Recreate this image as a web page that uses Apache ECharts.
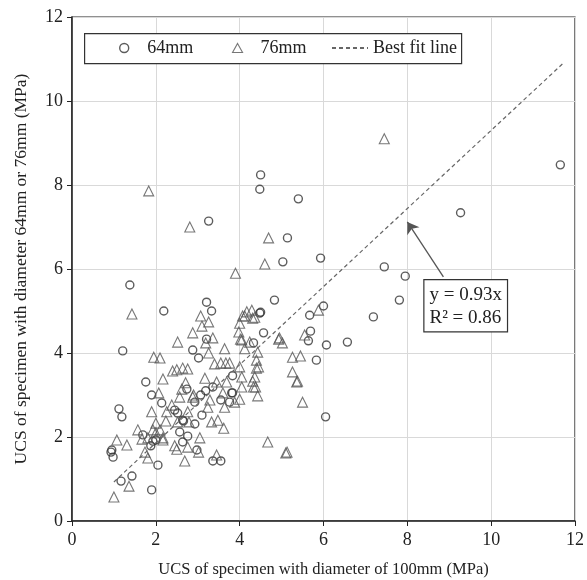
<!DOCTYPE html>
<html>
<head>
<meta charset="utf-8">
<script src="https://cdn.jsdelivr.net/npm/echarts@6/dist/echarts.min.js"></script>
<style>
html,body{margin:0;padding:0;background:#fff;}
#main{width:587px;height:580px;}
</style>
</head>
<body>
<div id="main"></div>
<script>
// 64mm specimens [UCS 100mm, UCS 64mm]
var d64 = [
  [11.65,8.48],[9.27,7.34],[5.4,7.67],[4.5,8.24],[4.48,7.9],[3.26,7.14],[5.14,6.74],[5.03,6.17],
  [5.93,6.26],[7.45,6.05],[7.95,5.83],[7.81,5.26],[7.19,4.86],[6.0,5.12],[5.67,4.9],[5.69,4.52],
  [5.64,4.29],[6.07,4.19],[6.57,4.26],[5.83,3.83],[6.05,2.48],[1.38,5.62],[2.19,5.0],[3.21,5.21],
  [3.33,5.0],[4.83,5.26],[4.48,4.95],[4.5,4.97],[4.57,4.48],[4.33,4.24],[3.21,4.33],[2.88,4.07],
  [3.02,3.88],[1.21,4.05],[3.83,3.46],[3.83,3.05],[1.76,3.31],[1.9,3.0],[1.12,2.67],[1.19,2.48],
  [2.14,2.81],[2.74,3.14],[3.19,3.1],[3.36,3.19],[3.07,3.0],[2.93,2.83],[3.81,3.05],[3.76,2.83],
  [3.55,2.88],[2.45,2.64],[2.52,2.57],[2.64,2.4],[2.66,2.38],[2.93,2.31],[3.1,2.52],[2.57,2.12],
  [2.76,2.02],[2.64,1.88],[1.69,2.05],[2.0,1.93],[1.93,1.9],[1.88,1.79],[2.98,1.69],[3.36,1.43],
  [3.55,1.43],[0.95,1.69],[0.98,1.52],[0.93,1.64],[2.05,1.33],[1.17,0.95],[1.43,1.07],[1.9,0.74]
];
// 76mm specimens [UCS 100mm, UCS 76mm]
var d76 = [
  [7.45,9.1],[1.83,7.86],[2.81,7.0],[4.69,6.74],[4.6,6.12],[3.9,5.9],[1.43,4.93],[3.07,4.88],
  [3.26,4.74],[3.1,4.64],[2.88,4.48],[2.52,4.26],[3.36,4.36],[3.19,4.24],[3.26,4.0],[3.64,4.1],
  [4.29,5.02],[4.17,4.98],[4.12,4.88],[4.31,4.83],[4.36,4.85],[4.07,4.88],[4.0,4.71],[3.98,4.5],
  [4.02,4.33],[4.05,4.31],[4.24,4.26],[4.12,4.1],[4.43,4.02],[4.4,3.83],[4.45,3.67],[4.4,3.64],
  [4.93,4.33],[5.02,4.24],[5.88,5.02],[5.55,4.43],[5.26,3.9],[5.45,3.93],[5.26,3.55],[5.36,3.31],
  [5.38,3.33],[5.5,2.83],[4.67,1.88],[5.1,1.62],[5.13,1.64],[1.95,3.9],[2.1,3.88],[2.4,3.57],
  [2.64,3.64],[2.76,3.62],[2.17,3.38],[3.17,3.4],[2.71,3.29],[3.4,3.74],[3.55,3.76],[3.67,3.76],
  [3.76,3.76],[2.07,3.05],[2.62,3.14],[2.9,3.0],[4.0,3.67],[4.05,3.43],[4.36,3.43],[4.31,3.33],
  [4.33,3.19],[4.43,2.98],[4.05,3.19],[3.69,3.31],[3.45,3.31],[3.6,3.05],[2.88,2.95],[2.57,2.95],
  [2.38,2.76],[3.24,2.71],[3.64,2.71],[1.9,2.6],[2.26,2.6],[2.76,2.6],[2.0,2.33],[2.24,2.38],
  [2.52,2.36],[2.79,2.36],[3.33,2.36],[3.48,2.4],[3.62,2.21],[1.57,2.17],[1.93,2.17],[2.1,2.17],
  [1.81,1.98],[1.67,1.95],[2.17,1.93],[1.07,1.93],[1.31,1.81],[1.74,1.64],[1.81,1.5],[2.45,1.79],
  [2.5,1.71],[2.76,1.76],[3.05,1.98],[3.02,1.64],[2.69,1.43],[3.45,1.57],[1.36,0.83],[1.0,0.57],
  [3.88,2.83],[4.0,2.9],[3.29,2.88],[2.0,2.1],[2.17,1.98],[4.38,3.19],[4.95,4.36],[2.5,3.6]
];
// best fit y = 0.93x
var slope = 0.93;
var fitX = [1.0, 11.75];
var fitLine = fitX.map(function (x) { return [x, +(slope * x).toFixed(3)]; });
var arrowFrom = [8.86, 5.81];
var arrowTo = [8.0, 7.12];
var boxAt = [8.38, 5.76];

var font = 'Liberation Serif';
var triPath = 'path://M5,0 L10,9 L0,9 Z';
var legText = { fontFamily: font, fontSize: 18, color: '#222' };
function leg(left, item) {
  return {
    left: left, top: 39, itemWidth: 36, itemHeight: 9, padding: 0, z: 95,
    textStyle: legText, data: [item]
  };
}
var mychart = echarts.init(document.getElementById('main'));
mychart.setOption({
  animation: false,
  textStyle: { fontFamily: font },
  grid: {
    left: 72, right: 12, top: 17, bottom: 59, outerBoundsMode: 'none',
    show: true, borderColor: '#222', borderWidth: 1.2
  },
  graphic: [{
    type: 'rect', left: 84, top: 33, z: 90,
    shape: { width: 377, height: 30 },
    style: { fill: '#fff', stroke: '#333', lineWidth: 1.2 }
  }],
  legend: [
    leg(119, { name: '64mm', icon: 'circle', itemStyle: { color: 'rgba(0,0,0,0)', borderColor: '#333', borderWidth: 1.4 } }),
    leg(232, { name: '76mm', icon: triPath, itemStyle: { color: 'rgba(0,0,0,0)', borderColor: '#555', borderWidth: 1.1 } }),
    leg(331, { name: 'Best fit line', itemStyle: { opacity: 0 } })
  ],
  xAxis: {
    type: 'value', min: 0, max: 12, interval: 2,
    name: 'UCS of specimen with diameter of 100mm (MPa)',
    nameLocation: 'middle', nameGap: 40,
    nameTextStyle: { fontFamily: font, fontSize: 16.5, color: '#222' },
    axisLine: { lineStyle: { color: '#222', width: 1.5 } },
    axisTick: { length: 5, lineStyle: { color: '#222' } },
    axisLabel: { fontFamily: font, fontSize: 18, color: '#222', margin: 10 },
    splitLine: { lineStyle: { color: '#d9d9d9', width: 1 } }
  },
  yAxis: {
    type: 'value', min: 0, max: 12, interval: 2,
    name: 'UCS of specimen with diameter 64mm or 76mm (MPa)',
    nameLocation: 'middle', nameGap: 42,
    nameTextStyle: { fontFamily: font, fontSize: 17.5, color: '#222' },
    axisLine: { lineStyle: { color: '#222', width: 1.5 } },
    axisTick: { show: true, length: 5, lineStyle: { color: '#222' } },
    axisLabel: { fontFamily: font, fontSize: 18, color: '#222', margin: 9 },
    splitLine: { lineStyle: { color: '#d9d9d9', width: 1 } }
  },
  series: [
    {
      name: '64mm', type: 'scatter', symbol: 'circle', symbolSize: 8, data: d64,
      itemStyle: { color: 'rgba(0,0,0,0)', borderColor: '#333', borderWidth: 1.4 }
    },
    {
      name: '76mm', type: 'scatter', symbol: 'triangle', symbolSize: 10, data: d76,
      symbolKeepAspect: true,
      itemStyle: { color: 'rgba(0,0,0,0)', borderColor: '#555', borderWidth: 1.1 }
    },
    {
      name: 'Best fit line', type: 'line', data: fitLine, symbol: 'none',
      itemStyle: { color: '#666' },
      lineStyle: { color: '#666', width: 1.2, type: [4, 3] },
      markLine: {
        silent: true, symbol: ['none', 'arrow'], symbolSize: 11,
        label: { show: false },
        lineStyle: { color: '#555', width: 1.3, type: 'solid' },
        data: [[{ coord: arrowFrom }, { coord: arrowTo }]]
      }
    }
  ]
});
var p = mychart.convertToPixel({ gridIndex: 0 }, boxAt);
mychart.setOption({
  graphic: [{}, {
    type: 'text', left: p[0], top: p[1], z: 100,
    style: {
      text: 'y = 0.93x\nR² = 0.86', font: '19px ' + font, fill: '#222', lineHeight: 23,
      backgroundColor: '#fff', borderColor: '#333', borderWidth: 1.2, padding: [3, 5, 2, 5]
    }
  }]
});
</script>
</body>
</html>
